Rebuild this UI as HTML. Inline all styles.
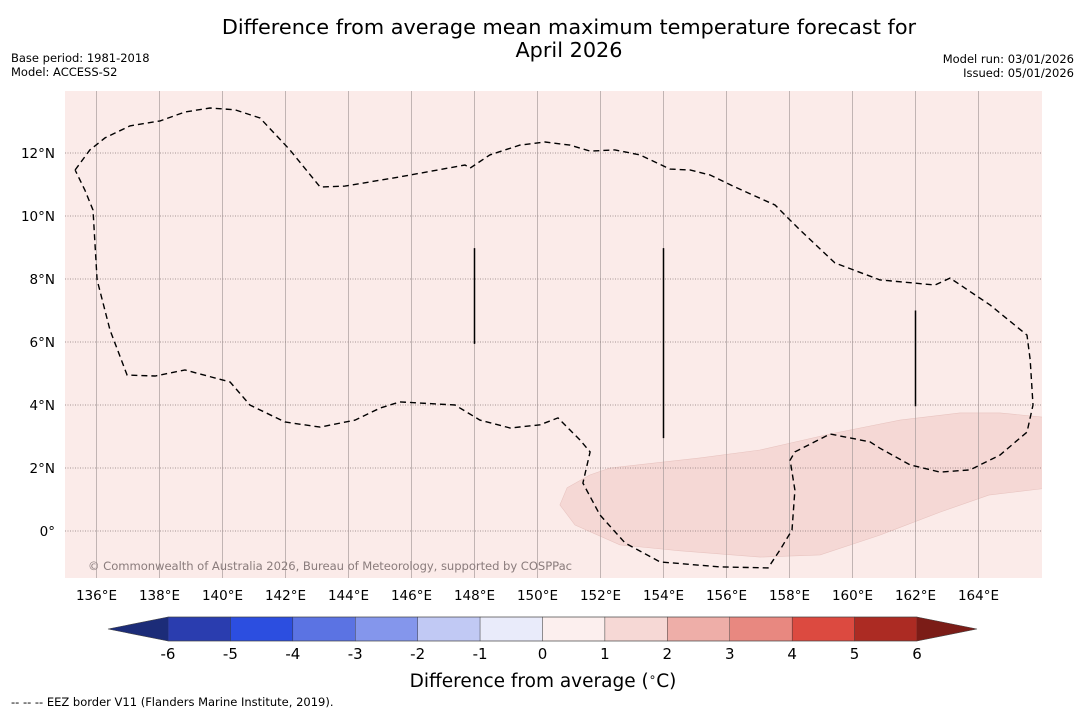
<!DOCTYPE html>
<html><head><meta charset="utf-8">
<style>
body{margin:0;background:#fff;width:1085px;height:713px;overflow:hidden;font-family:"DejaVu Sans","Liberation Sans",sans-serif;}
svg text{font-family:"DejaVu Sans","Liberation Sans",sans-serif;}
</style></head>
<body>
<svg id="chart" width="1085" height="713" xmlns="http://www.w3.org/2000/svg">
<text x="569" y="34" font-size="20.8" text-anchor="middle">Difference from average mean maximum temperature forecast for</text>
<text x="569" y="57" font-size="20.8" text-anchor="middle">April 2026</text>
<text x="11" y="62" font-size="11.5">Base period: 1981-2018</text>
<text x="11" y="76" font-size="11.5">Model: ACCESS-S2</text>
<text x="1074" y="63" font-size="11.5" text-anchor="end">Model run: 03/01/2026</text>
<text x="1074" y="77" font-size="11.5" text-anchor="end">Issued: 05/01/2026</text>
<defs><clipPath id="mapclip"><rect x="65" y="91" width="977" height="487"/></clipPath></defs>
<rect x="65" y="91" width="977" height="487" fill="#fbebe9"/>
<g id="map" clip-path="url(#mapclip)"></g>
<g id="axes"></g>
<g id="cbar"></g>
<text x="543" y="687" font-size="18.5" text-anchor="middle">Difference from average (<tspan font-size="12" dy="-6">∘</tspan><tspan dy="6">C)</tspan></text>
<text x="11" y="706" font-size="11.5">--  --  -- EEZ border V11 (Flanders Marine Institute, 2019).</text>
</svg>
<script>
const lonTicks=[136,138,140,142,144,146,148,150,152,154,156,158,160,162,164];
const latTicks=[12,10,8,6,4,2,0];
const cbLevels=[-6,-5,-4,-3,-2,-1,0,1,2,3,4,5,6];
const cbColors=["#2a3daf","#2c4ee0","#5b73e3","#8496ec","#c1c9f4","#e9ebfa","#fcefee","#f6d8d5","#eeaea8","#e88880","#dc4a40","#ac2b23"];
const cbUnder="#1c2c78", cbOver="#7b1c17";
const anomalyRegion=[[150.94,1.37],[151.67,1.78],[152.30,2.00],[155.16,2.32],[157.06,2.57],[159.29,3.08],[161.51,3.52],[163.41,3.75],[164.68,3.75],[166.27,3.59],[166.27,1.37],[164.33,1.14],[162.78,0.60],[160.87,-0.13],[158.97,-0.76],[157.06,-0.83],[154.52,-0.63],[152.62,-0.44],[151.19,0.19],[150.71,0.83]];
const eezBorder=[[135.32,11.46],[135.79,12.10],[136.27,12.48],[137.06,12.86],[138.02,13.02],[138.81,13.30],[139.60,13.43],[140.40,13.37],[141.19,13.11],[142.14,12.10],[143.10,10.92],[143.89,10.95],[145.63,11.24],[147.70,11.62],[147.86,11.52],[148.49,11.94],[149.44,12.25],[150.24,12.35],[151.03,12.25],[151.67,12.06],[152.46,12.10],[153.25,11.94],[154.21,11.49],[154.84,11.46],[155.48,11.30],[156.27,10.92],[157.54,10.35],[158.33,9.56],[159.44,8.51],[160.87,7.97],[162.62,7.81],[163.10,8.03],[164.37,7.17],[165.54,6.22],[165.64,5.43],[165.73,4.00],[165.54,3.14],[164.68,2.41],[163.73,1.94],[162.78,1.87],[161.83,2.10],[160.87,2.63],[160.56,2.83],[159.29,3.08],[158.17,2.51],[158.02,2.25],[158.17,1.30],[158.08,0.03],[157.70,-0.60],[157.32,-1.17],[155.79,-1.14],[153.89,-0.98],[152.78,-0.38],[151.98,0.51],[151.44,1.52],[151.67,2.51],[151.35,2.89],[151.03,3.21],[150.65,3.59],[150.08,3.37],[149.13,3.27],[148.17,3.52],[147.38,4.00],[145.63,4.10],[145.00,3.90],[144.21,3.52],[143.10,3.30],[141.98,3.46],[140.87,4.00],[140.24,4.73],[138.81,5.11],[137.86,4.92],[136.97,4.95],[136.43,6.38],[136.02,7.97],[135.89,10.19],[135.63,10.83],[135.32,11.46]];
const eezLinesLon=[148,154,162];
const eezLinesTop=[8.98,8.98,7.0];
const eezLinesBot=[5.94,2.95,3.96];

const NS="http://www.w3.org/2000/svg";
const X=lon=>96.5+(lon-136)*31.5;
const Y=lat=>531-lat*31.5;
const CB=v=>168+(v+6)*(917-168)/12;
function mk(tag,attrs,parent){const e=document.createElementNS(NS,tag);for(const k in attrs)e.setAttribute(k,attrs[k]);parent.appendChild(e);return e;}
const map=document.getElementById('map'),axes=document.getElementById('axes'),cbar=document.getElementById('cbar');

let d=anomalyRegion.map((p,i)=>(i?'L':'M')+X(p[0]).toFixed(1)+','+Y(p[1]).toFixed(1)).join(' ')+'Z';
let r=mk('path',{d:d,fill:'#f5d8d5',stroke:'#e8c4c0','stroke-width':0.6},map);



lonTicks.forEach(lon=>{
  let l=mk('line',{x1:X(lon),x2:X(lon),y1:91,y2:578,stroke:'#a89c9c','stroke-width':0.7},map);
  
  
  let t=mk('text',{x:X(lon),y:600,'font-size':13.5,'text-anchor':'middle'},axes);
  t.textContent=lon+'°E';
  
  
});
latTicks.forEach(lat=>{
  let l=mk('line',{x1:65,x2:1042,y1:Y(lat),y2:Y(lat),stroke:'#8a7a7a','stroke-width':0.8,'stroke-dasharray':'1,1.5'},map);
  
  
  let t=mk('text',{x:55,y:Y(lat)+5,'font-size':13.5,'text-anchor':'end'},axes);
  t.textContent=lat===0?'0°':lat+'°N';
  
  
});

d=eezBorder.map((p,i)=>(i?'L':'M')+X(p[0]).toFixed(1)+','+Y(p[1]).toFixed(1)).join(' ');
let b=mk('path',{d:d,fill:'none',stroke:'#000','stroke-width':1.4,'stroke-dasharray':'6,4'},map);


eezLinesLon.forEach((lon,i)=>{
  let l=mk('line',{x1:X(lon),x2:X(lon),y1:Y(eezLinesTop[i]),y2:Y(eezLinesBot[i]),stroke:'#000','stroke-width':1.5},map);
  
  
});
let cp=mk('text',{x:88,y:570,'font-size':11.6,fill:'#8a7c7c',textLength:484},map);
cp.textContent='© Commonwealth of Australia 2026, Bureau of Meteorology, supported by COSPPac';



cbColors.forEach((c,i)=>{
  let rc=mk('rect',{x:CB(cbLevels[i]),y:617,width:CB(cbLevels[i+1])-CB(cbLevels[i]),height:24,fill:c,stroke:'#333','stroke-width':0.4},cbar);
  
  
});
let u=mk('polygon',{points:`108,629 ${CB(-6)},617 ${CB(-6)},641`,fill:cbUnder},cbar);


let o=mk('polygon',{points:`977,629 ${CB(6)},617 ${CB(6)},641`,fill:cbOver},cbar);


let fr=mk('polygon',{points:`108,629 ${CB(-6)},617 ${CB(6)},617 977,629 ${CB(6)},641 ${CB(-6)},641`,fill:'none',stroke:'#444','stroke-width':0.6},cbar);


cbLevels.forEach(v=>{
  let t=mk('text',{x:CB(v),y:659,'font-size':15,'text-anchor':'middle'},cbar);
  t.textContent=v;
  
  
});
</script>
</body></html>
